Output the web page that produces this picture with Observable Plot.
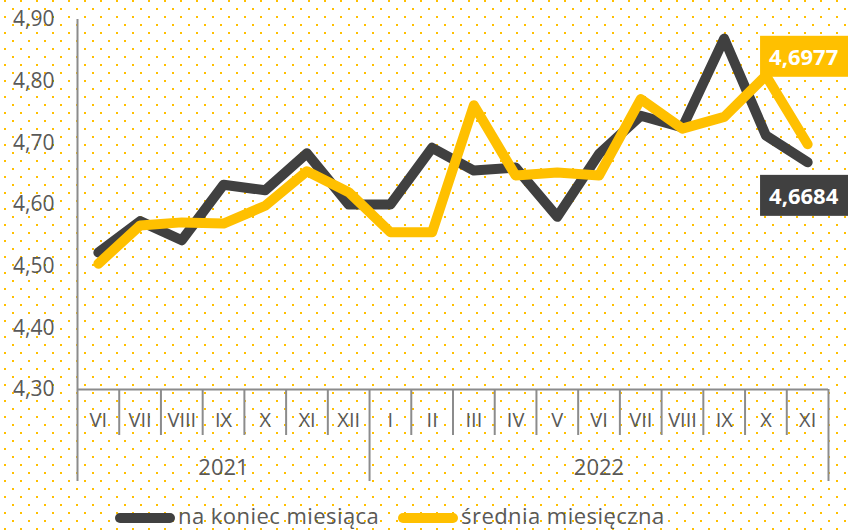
<!DOCTYPE html>
<html><head><meta charset="utf-8">
<script src="https://cdn.jsdelivr.net/npm/d3@7"></script>
<script src="https://cdn.jsdelivr.net/npm/@observablehq/plot@0.6"></script>
<style>
html,body{margin:0;padding:0;overflow:hidden;width:848px;height:531px;}
body{position:relative;background-color:#fff;background-image:url("data:image/svg+xml,%3Csvg xmlns='http://www.w3.org/2000/svg' width='16' height='16'%3E%3Crect x='4' y='0' width='2' height='2' fill='%23FFC000'/%3E%3Crect x='12' y='8' width='2' height='2' fill='%23FFC000'/%3E%3C/svg%3E");font-family:"Open Sans",sans-serif;}
#chart{position:absolute;left:0;top:0;}
.legend-item{position:absolute;top:500px;display:flex;align-items:center;height:30px;font-size:22px;line-height:30px;letter-spacing:0.45px;color:#595959;white-space:nowrap;}
.sw{display:inline-block;width:60px;height:10px;border-radius:5px;margin-right:3px;transform:translateY(3px);}
</style></head>
<body><div id="chart"></div><div id="legend"></div>
<script>
const months = ["VI","VII","VIII","IX","X","XI","XII","I","II","III","IV","V","VI","VII","VIII","IX","X","XI"];
const years = [2021,2021,2021,2021,2021,2021,2021,2022,2022,2022,2022,2022,2022,2022,2022,2022,2022,2022];
const endOfMonth = [4.522,4.573,4.542,4.632,4.623,4.683,4.600,4.600,4.692,4.655,4.660,4.580,4.682,4.744,4.725,4.869,4.712,4.6684];
const monthlyAvg = [4.504,4.566,4.571,4.569,4.598,4.654,4.620,4.555,4.555,4.761,4.647,4.652,4.647,4.771,4.723,4.742,4.809,4.6977];
const yTicks = [4.30,4.40,4.50,4.60,4.70,4.80,4.90];
const seriesNames = ["na koniec miesiąca","średnia miesięczna"];
const colors = ["#404040","#FFC000"];
const axisColor = "#8c8c8c";
const textColor = "#595959";

const rows = months.map((m,i)=>({i, month:m, year:years[i], end:endOfMonth[i], avg:monthlyAvg[i]}));
const yearGroups = d3.groups(rows, d=>d.year).map(([year, rs])=>({year, mid:d3.mean(rs,d=>d.i)}));
const bounds = d3.range(months.length+1).map(k=>({pos:k-0.5, yearEdge: k===0 || k===months.length || years[k]!==years[k-1], first:k===0}));
const last = rows[rows.length-1];
const fmt = (d,n)=>d.toFixed(n).replace(".", ",");
const y0 = yTicks[0];

const plot = Plot.plot({
  width:848, height:496, marginLeft:77, marginRight:20, marginTop:19, marginBottom:107,
  style:{background:"transparent", fontFamily:"'Open Sans', sans-serif", fontSize:"20px", color:textColor},
  x:{domain:[-0.5, months.length-0.5], axis:null},
  y:{domain:[y0, yTicks[yTicks.length-1]], axis:null},
  marks:[
    Plot.text(yTicks, {y:d=>d, text:d=>fmt(d,2), frameAnchor:"left", textAnchor:"end", dx:-23, fontSize:21, fill:textColor}),
    Plot.ruleY([y0], {stroke:axisColor, strokeWidth:2}),
    Plot.ruleX(bounds.filter(b=>!b.yearEdge), {x:"pos", y1:y0, y2:y0, insetBottom:-46, stroke:axisColor, strokeWidth:2}),
    Plot.ruleX(bounds.filter(b=>b.yearEdge && !b.first), {x:"pos", y1:y0, y2:y0, insetBottom:-92, stroke:axisColor, strokeWidth:2}),
    Plot.ruleX(bounds.filter(b=>b.first), {x:"pos", insetBottom:-92, stroke:axisColor, strokeWidth:2}),
    Plot.text(rows, {x:"i", y:y0, text:"month", dy:31, fontSize:20, fill:textColor}),
    Plot.text(yearGroups, {x:"mid", y:y0, text:d=>String(d.year), dy:78, fontSize:22, fill:textColor}),
    Plot.line(rows, {x:"i", y:"end", stroke:colors[0], strokeWidth:10, strokeLinecap:"round", strokeLinejoin:"round"}),
    Plot.line(rows, {x:"i", y:"avg", stroke:colors[1], strokeWidth:10, strokeLinecap:"round", strokeLinejoin:"round"}),
    Plot.text([last], {x:"i", y:"avg", text:d=>fmt(d.avg,4), dx:-4, dy:-86, fill:"white", fontWeight:"bold", fontSize:22, ariaLabel:"label-avg"}),
    Plot.text([last], {x:"i", y:"end", text:d=>fmt(d.end,4), dx:-4, dy:35, fill:"white", fontWeight:"bold", fontSize:22, ariaLabel:"label-end"})
  ]
});
document.getElementById("chart").append(plot);

for (const [label, color, val] of [["label-avg", colors[1], fmt(last.avg,4)], ["label-end", colors[0], fmt(last.end,4)]]) {
  let texts = [...plot.querySelectorAll(`g[aria-label="${label}"] text`)];
  if (!texts.length) texts = [...plot.querySelectorAll("text")].filter(t=>t.textContent===val);
  texts.forEach(t=>{
    const b = t.getBBox();
    const r = document.createElementNS("http://www.w3.org/2000/svg","rect");
    r.setAttribute("x", b.x-9); r.setAttribute("width", b.width+40);
    r.setAttribute("y", b.y+b.height/2-20.5); r.setAttribute("height", 41);
    r.setAttribute("fill", color);
    if (t.getAttribute("transform")) r.setAttribute("transform", t.getAttribute("transform"));
    t.parentNode.insertBefore(r, t);
  });
}

const legendLefts = [115, 398];
const legend = document.getElementById("legend");
seriesNames.forEach((name,k)=>{
  const item = document.createElement("div");
  item.className = "legend-item";
  item.style.left = legendLefts[k] + "px";
  const sw = document.createElement("span");
  sw.className = "sw"; sw.style.background = colors[k];
  item.append(sw, document.createTextNode(name));
  legend.append(item);
});
</script>
</body></html>
